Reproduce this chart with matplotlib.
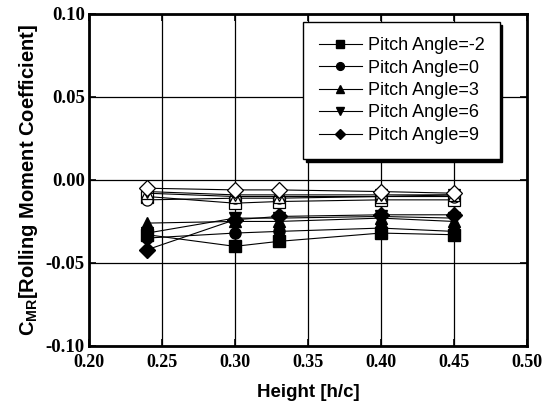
import matplotlib
matplotlib.use("Agg")
import matplotlib.pyplot as plt

plt.rcParams['mathtext.fontset'] = 'custom'
plt.rcParams['mathtext.rm'] = 'Liberation Sans:bold'
plt.rcParams['mathtext.it'] = 'Liberation Sans:bold'
plt.rcParams['mathtext.bf'] = 'Liberation Sans:bold'

heights = [0.24, 0.30, 0.33, 0.40, 0.45]
labels = ['Pitch Angle=-2', 'Pitch Angle=0', 'Pitch Angle=3', 'Pitch Angle=6', 'Pitch Angle=9']
markers = ['s', 'o', '^', 'v', 'D']

filled_m2 = [-0.033, -0.040, -0.037, -0.032, -0.033]
filled_0 = [-0.035, -0.032, -0.031, -0.029, -0.031]
filled_3 = [-0.026, -0.025, -0.025, -0.023, -0.025]
filled_6 = [-0.032, -0.023, -0.023, -0.022, -0.023]
filled_9 = [-0.042, -0.024, -0.022, -0.021, -0.021]

open_m2 = [-0.010, -0.014, -0.013, -0.012, -0.012]
open_0 = [-0.012, -0.011, -0.011, -0.010, -0.010]
open_3 = [-0.008, -0.010, -0.010, -0.010, -0.009]
open_6 = [-0.007, -0.009, -0.009, -0.009, -0.009]
open_9 = [-0.005, -0.006, -0.006, -0.007, -0.008]

filled = [filled_m2, filled_0, filled_3, filled_6, filled_9]
opened = [open_m2, open_0, open_3, open_6, open_9]

fig = plt.figure(figsize=(5.42, 4.08), dpi=100)
ax = fig.add_axes([0.164, 0.152, 0.808, 0.814])

ax.set_xlim(0.20, 0.50)
ax.set_ylim(-0.10, 0.10)
ax.set_xticks([0.20, 0.25, 0.30, 0.35, 0.40, 0.45, 0.50])
ax.set_yticks([-0.10, -0.05, 0.00, 0.05, 0.10])
ax.grid(True, color='black', linewidth=0.9)
ax.set_axisbelow(True)

for vals, m in zip(opened, markers):
    ax.plot(heights, vals, color='black', linewidth=0.8, marker=m, markersize=8,
            markerfacecolor='white', markeredgecolor='black', markeredgewidth=0.9)

handles = []
for vals, m, lab in zip(filled, markers, labels):
    h, = ax.plot(heights, vals, color='black', linewidth=0.8, marker=m, markersize=8,
                 markerfacecolor='black', markeredgecolor='black', label=lab)
    handles.append(h)

for s in ax.spines.values():
    s.set_linewidth(2)

ax.tick_params(direction='in', length=5, width=1.2, top=True, right=True)
ax.tick_params(axis='x', pad=6)
ax.tick_params(axis='y', pad=3)
ax.set_xticklabels(['%.2f' % v for v in ax.get_xticks()], fontfamily='Liberation Serif', fontweight='bold', fontsize=13)
ax.set_yticklabels(['%.2f' % v for v in ax.get_yticks()], fontfamily='Liberation Serif', fontweight='bold', fontsize=13.5)

ax.set_xlabel('Height [h/c]', fontfamily='Liberation Sans', fontweight='bold', fontsize=13.5, labelpad=9)
ax.set_ylabel(r'C$_{\mathrm{MR}}$[Rolling Moment Coefficient]', fontfamily='Liberation Sans',
              fontweight='bold', fontsize=14.5, labelpad=4)

leg = ax.legend(handles=handles, loc='upper right', bbox_to_anchor=(0.938, 0.976),
                prop={'family': 'Liberation Sans', 'size': 13}, frameon=True, fancybox=False,
                edgecolor='black', markerscale=0.7, handlelength=2.4, labelspacing=0.3,
                borderpad=0.85, handletextpad=0.3, borderaxespad=0.0,
                shadow={'color': 'black', 'alpha': 1})
leg.get_frame().set_linewidth(1.0)

fig.savefig('out.png', dpi=100)
